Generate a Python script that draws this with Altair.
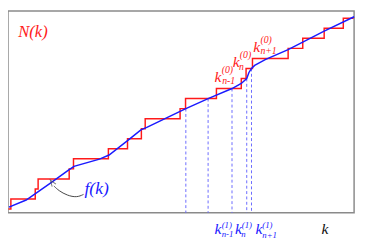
import altair as alt
import pandas as pd

# ---- data ----
# k positions where the counting function N(k) jumps by one
JUMP_K = [0.3, 2.85, 3.15, 6.4, 6.85, 10.5, 12.5, 13.95, 14.35, 18.0,
          18.57, 21.8, 24.4, 24.9, 25.57, 29.3, 30.83, 33.07, 35.07]
K_START, K_END = 0.05, 36.15

# smooth approximation f(k)
F_K = [0.1, 1.9, 2.83, 4.4, 6.4, 6.9, 9.57, 10.57, 12.57, 13.9, 14.57,
       18.6, 20.93, 23.43, 24.4, 24.97, 25.2, 25.47, 25.8, 26.9, 29.3, 33.07, 36.2]
F_N = [0.19, 0.90, 1.51, 2.55, 3.92, 4.25, 4.97, 5.38, 6.86, 7.88, 8.16,
       10.0, 11.0, 12.0, 12.5, 13.0, 13.6, 14.0, 14.3, 14.88, 15.88, 17.71, 19.15]

# k^(1) points: where f(k) reaches integer levels
K1 = [18.6, 20.93, 23.43, 24.97, 25.47]
K1_LEVEL = [10, 11, 12, 13, 14]

# annotation arrow (from the f(k) label to the curve)
ARROW_K = [7.9, 7.2, 6.2, 5.3, 4.8]
ARROW_N = [1.46, 1.15, 1.35, 1.83, 2.3]
ARROW_TIP = (4.62, 2.62)

K_DOMAIN = [0, 36.2]
N_DOMAIN = [-0.377, 19.717]

W, H = 355, 207

xs = alt.Scale(domain=K_DOMAIN, nice=False, zero=False)
ys = alt.Scale(domain=N_DOMAIN, nice=False, zero=False)
X = lambda f="k": alt.X(f, type="quantitative", scale=xs, axis=None)
Y = lambda f="N": alt.Y(f, type="quantitative", scale=ys, axis=None)

stair = pd.DataFrame({"k": [K_START] + JUMP_K + [K_END],
                      "N": list(range(len(JUMP_K) + 1)) + [len(JUMP_K)]})
curve = pd.DataFrame({"k": F_K, "N": F_N})
dash = pd.DataFrame({"k": K1, "top": K1_LEVEL, "bottom": [N_DOMAIN[0]] * len(K1)})
arrow = pd.DataFrame({"k": ARROW_K, "N": ARROW_N, "i": list(range(len(ARROW_K)))})
tip = pd.DataFrame({"k": [ARROW_TIP[0]], "N": [ARROW_TIP[1]]})

RED, BLUE = "#ff1a1a", "#1a1aff"
FONT = "Liberation Serif"

dash_layer = alt.Chart(dash).mark_rule(color="#6a6aff", strokeDash=[3, 2.5], strokeWidth=1).encode(
    x=X(), y=Y("top"), y2="bottom")
stair_layer = alt.Chart(stair).mark_line(interpolate="step-after", color=RED, strokeWidth=1.5).encode(
    x=X(), y=Y())
curve_layer = alt.Chart(curve).mark_line(color=BLUE, strokeWidth=1.5).encode(x=X(), y=Y())
arrow_layer = alt.Chart(arrow).mark_line(color="#444444", strokeWidth=1, interpolate="basis").encode(
    x=X(), y=Y(), order="i")
tip_layer = alt.Chart(tip).mark_point(shape="M-0.7,1L0,-1L0.7,1", filled=False, color="#444444",
                                      strokeWidth=1, size=45, angle=325).encode(x=X(), y=Y())


def texts(labels, ks, ns, color, size):
    df = pd.DataFrame({"t": labels, "k": ks, "N": ns})
    return alt.Chart(df).mark_text(font=FONT, fontStyle="italic", fontSize=size, color=color,
                                   align="left", baseline="alphabetic").encode(x=X(), y=Y(), text="t")


red_big = texts(["N(k)"], [1.07], [17.17], RED, 17)
red_k = texts(["k", "k", "k"], [21.6, 23.5, 25.65], [12.64, 14.15, 15.66], RED, 16)
red_small = texts(["(0)", "n-1", "(0)", "n", "(0)", "n+1"],
                  [22.35, 22.4, 24.25, 24.15, 26.4, 26.4],
                  [13.54, 12.5, 15.0, 13.82, 16.5, 15.42], RED, 10)
blue_big = texts(["f(k)"], [8.0], [1.51], BLUE, 18)
blue_k = texts(["k", "k", "k"], [21.6, 23.75, 25.9], [-2.45, -2.45, -2.45], BLUE, 16)
blue_small = texts(["(1)", "n-1", "(1)", "n", "(1)", "n+1"],
                   [22.35, 22.35, 24.45, 24.4, 26.6, 26.6],
                   [-1.85, -2.8, -1.85, -2.8, -1.85, -2.85], BLUE, 9)
black_k = texts(["k"], [32.8], [-2.45], "#111111", 16)

chart = alt.layer(
    dash_layer, stair_layer, curve_layer, arrow_layer, tip_layer,
    red_big, red_k, red_small, blue_big, blue_k, blue_small, black_k
).properties(
    width=W, height=H,
    autosize=alt.AutoSizeParams(type="none"),
    padding={"left": 0, "top": 0, "right": 4, "bottom": 35},
).configure_view(stroke="#8a8a8a", strokeWidth=1.5)

chart.save("out.html", embed_options={"renderer": "svg", "actions": False})
